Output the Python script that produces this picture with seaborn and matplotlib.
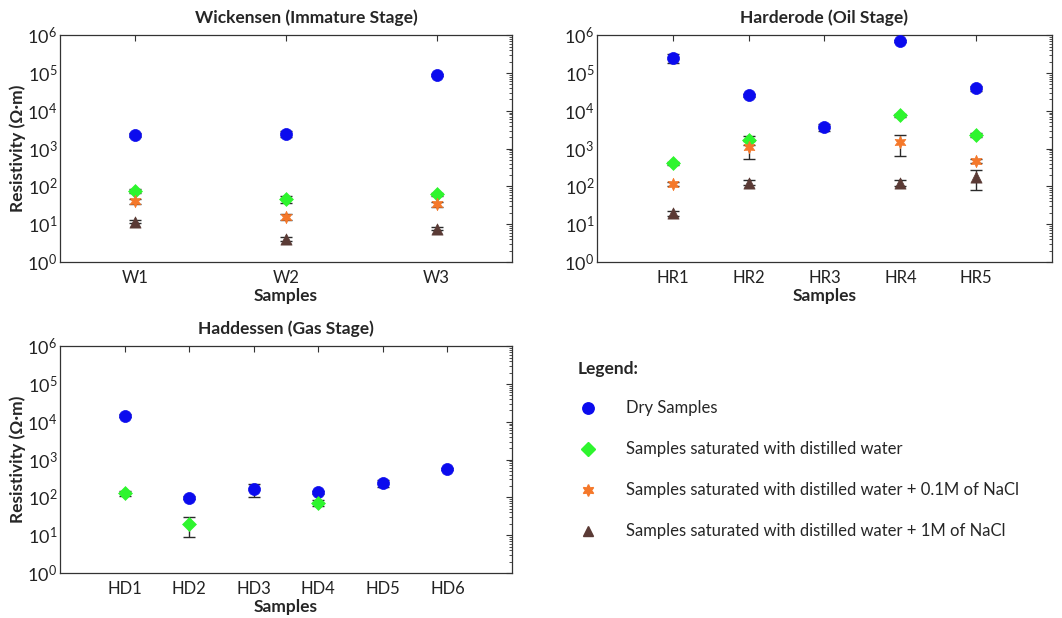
import numpy as np
import pandas as pd
import matplotlib
matplotlib.use("Agg")
import matplotlib.pyplot as plt
from matplotlib.lines import Line2D
import seaborn as sns

# ---- data -------------------------------------------------------------
series_names = ["Dry Samples",
                "Samples saturated with distilled water",
                "Samples saturated with distilled water + 0.1M of NaCl",
                "Samples saturated with distilled water + 1M of NaCl"]

w_samples = ["W1", "W2", "W3"]
w_dry = [2300, 2450, 87000]
w_dry_err = [250, 450, 6000]
w_water = [78, 46, 62]
w_water_err = [10, 9, 6]
w_nacl01 = [40, 15.8, 34]
w_nacl01_err = [6, 2.5, 5]
w_nacl1 = [11.8, 4.1, 7.7]
w_nacl1_err = [1.2, 0.6, 0.6]

hr_samples = ["HR1", "HR2", "HR3", "HR4", "HR5"]
hr_dry = [251000, 26000, 3700, 710000, 39000]
hr_dry_err = [70000, 2500, 800, 50000, 6000]
hr_water = [410, 1700, np.nan, 7600, 2300]
hr_water_err = [40, 450, np.nan, 600, 250]
hr_nacl01 = [119, 1080, np.nan, 1500, 480]
hr_nacl01_err = [15, 560, np.nan, 850, 60]
hr_nacl1 = [19.6, 126, np.nan, 126, 175]
hr_nacl1_err = [3, 20, np.nan, 25, 95]

hd_samples = ["HD1", "HD2", "HD3", "HD4", "HD5", "HD6"]
hd_dry = [14500, 99, 165, 137, 237, 565]
hd_dry_err = [1500, 8, 62, 12, 45, 40]
hd_water = [129, 20, np.nan, 73, np.nan, np.nan]
hd_water_err = [20, 11, np.nan, 13, np.nan, np.nan]

colors = ["#0b0bee", "#2ef52e", "#f5782a", "#5a3a35"]
markers = ["o", "D", (6, 1, 0), "^"]
msizes = [75, 50, 80, 65]

# ---- style ------------------------------------------------------------
sns.set_theme(style="white")
plt.rcParams["font.family"] = ["Lato", "DejaVu Sans"]
plt.rcParams["mathtext.fontset"] = "custom"
plt.rcParams["mathtext.rm"] = "Lato"
plt.rcParams["mathtext.it"] = "Lato"
plt.rcParams["mathtext.bf"] = "Lato:bold"

fig = plt.figure(figsize=(10.62, 6.18), dpi=100)
ax_w = fig.add_axes([0.0565, 0.576, 0.4256, 0.367])
ax_hr = fig.add_axes([0.5621, 0.576, 0.4285, 0.367])
ax_hd = fig.add_axes([0.0565, 0.0728, 0.4256, 0.367])


def long_frame(samples, values, errors):
    rows = []
    for name, vals, errs in zip(series_names, values, errors):
        for i, (s, v, e) in enumerate(zip(samples, vals, errs)):
            if not np.isnan(v):
                rows.append({"pos": i + 1, "sample": s, "series": name,
                             "value": v, "err": e})
    return pd.DataFrame(rows)


def draw_panel(ax, title, samples, values, errors, xlim, title_x=0.5):
    df = long_frame(samples, values, errors)
    for k, name in enumerate(series_names):
        sub = df[df["series"] == name]
        if sub.empty:
            continue
        lo = np.minimum(sub["err"].values, sub["value"].values * 0.95)
        ax.errorbar(sub["pos"], sub["value"], yerr=[lo, sub["err"].values],
                    fmt="none", ecolor="#2a2a2a", elinewidth=1.0,
                    capsize=4, capthick=1.0, zorder=2)
        sns.scatterplot(data=sub, x="pos", y="value", ax=ax,
                        color=colors[k], marker=markers[k], s=msizes[k],
                        edgecolor=colors[k], linewidth=0.5, zorder=3,
                        legend=False)
    ax.set_yscale("log")
    ax.set_ylim(1, 1e6)
    ax.set_xlim(*xlim)
    ax.set_xticks(range(1, len(samples) + 1))
    ax.set_xticklabels(samples, fontsize=12, color="#222222")
    ax.set_yticks([10.0 ** p for p in range(7)])
    ax.set_yticklabels([rf"$10^{{{p}}}$" for p in range(7)],
                       fontsize=13, color="#222222")
    ax.yaxis.set_minor_locator(matplotlib.ticker.LogLocator(
        base=10, subs=np.arange(2, 10), numticks=20))
    ax.yaxis.set_minor_formatter(matplotlib.ticker.NullFormatter())
    ax.tick_params(axis="both", which="both", direction="in",
                   top=True, right=True, color="#333333")
    ax.tick_params(axis="both", which="major", length=4, width=0.8)
    ax.tick_params(axis="y", which="minor", length=2.5, width=0.6)
    ax.tick_params(axis="x", which="major", pad=6)
    ax.tick_params(axis="y", which="major", pad=2)
    for sp in ax.spines.values():
        sp.set_color("#333333")
        sp.set_linewidth(0.9)
    ax.set_title(title, fontsize=12.5, fontweight="bold", pad=9, x=title_x)
    ax.set_xlabel("Samples", fontsize=12.5, fontweight="bold", labelpad=1)
    ax.set_ylabel("")


draw_panel(ax_w, "Wickensen (Immature Stage)", w_samples,
           [w_dry, w_water, w_nacl01, w_nacl1],
           [w_dry_err, w_water_err, w_nacl01_err, w_nacl1_err], (0.5, 3.5),
           title_x=0.546)
draw_panel(ax_hr, "Harderode (Oil Stage)", hr_samples,
           [hr_dry, hr_water, hr_nacl01, hr_nacl1],
           [hr_dry_err, hr_water_err, hr_nacl01_err, hr_nacl1_err], (0, 6))
draw_panel(ax_hd, "Haddessen (Gas Stage)", hd_samples,
           [hd_dry, hd_water], [hd_dry_err, hd_water_err], (0, 7))

ax_w.set_ylabel("Resistivity (\u03a9\u00b7m)", fontsize=12.5,
                fontweight="bold", labelpad=1)
ax_hd.set_ylabel("Resistivity (\u03a9\u00b7m)", fontsize=12.5,
                 fontweight="bold", labelpad=1)

# ---- legend -----------------------------------------------------------
handles = [Line2D([], [], linestyle="none", marker=markers[k],
                  markerfacecolor=colors[k], markeredgecolor=colors[k],
                  markersize=np.sqrt(msizes[k]) * 0.95)
           for k in range(4)]
leg = fig.legend(handles, series_names, loc="upper left",
                 bbox_to_anchor=(0.530, 0.4405), frameon=False,
                 title="Legend:", fontsize=12, labelspacing=1.5,
                 handletextpad=1.7, handlelength=1.2, alignment="left",
                 title_fontproperties={"weight": "bold", "size": 12.5})
leg._legend_box.sep = 17

fig.savefig("out.png", dpi=100)
